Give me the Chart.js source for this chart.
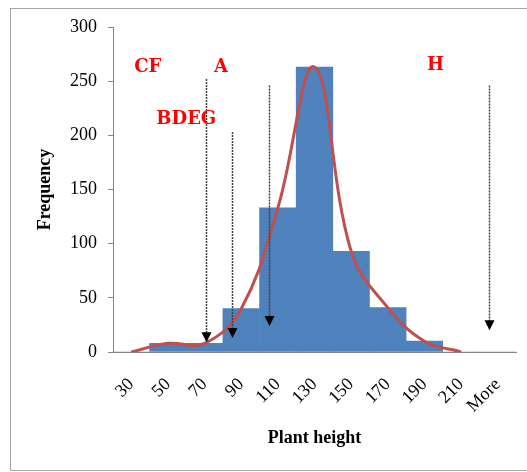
<!DOCTYPE html>
<html>
<head>
<meta charset="utf-8">
<script src="https://cdn.jsdelivr.net/npm/chart.js@4.4.0/dist/chart.umd.min.js"></script>
<style>
  html, body { margin: 0; padding: 0; background: #fff; }
  #wrap { width: 527px; height: 472px; }
</style>
</head>
<body>
<div id="wrap"><canvas id="chart" width="527" height="472"></canvas></div>
<script>
// histogram bins (upper edge of each bin, Excel style)
const binLabels = ['30', '50', '70', '90', '110', '130', '150', '170', '190', '210', 'More'];
const frequency = [0, 8, 8, 40, 133, 263, 93, 41, 10, 0, 0];
// smoothed curve drawn over the bars
const curve = [0, 8, 8, 40, 133, 263, 93, 41, 10, 0, null];

// arrows: plant height they point at, top and tip in frequency units
const arrowHeights = [71, 85, 105, 225];
const arrowTops = [252, 203, 246, 246];
const arrowTips = [9, 13, 24, 20];

// red group labels
const markLabels = ['CF', 'A', 'BDEG', 'H'];
const markHeights = [39, 79, 60, 196];
const markFreqs = [263, 263, 215, 265];

const yTicks = [0, 50, 100, 150, 200, 250, 300];

// plant height -> position on the category axis
const heightToIndex = h => (h - 30) / 20;

const serif = '"Liberation Serif", "Times New Roman", serif';

const annotations = {
    id: 'annotations',
    beforeDraw(chart) {
        const ctx = chart.ctx;
        ctx.save();
        ctx.strokeStyle = '#a6a6a6';
        ctx.lineWidth = 1;
        ctx.strokeRect(10.5, 8.5, 540, 462);
        ctx.restore();
    },
    afterDatasetsDraw(chart) {
        const ctx = chart.ctx;
        const x = chart.scales.x;
        const y = chart.scales.y;
        ctx.save();

        // dotted arrows
        arrowHeights.forEach((h, i) => {
            const px = Math.round(x.getPixelForValue(heightToIndex(h))) + 0.5;
            const top = y.getPixelForValue(arrowTops[i]);
            const tip = y.getPixelForValue(arrowTips[i]);
            ctx.setLineDash([2, 1]);
            ctx.strokeStyle = '#404040';
            ctx.lineWidth = 1.5;
            ctx.beginPath();
            ctx.moveTo(px, top);
            ctx.lineTo(px, tip - 9);
            ctx.stroke();
            ctx.setLineDash([]);
            ctx.fillStyle = '#000';
            ctx.beginPath();
            ctx.moveTo(px - 5, tip - 10);
            ctx.lineTo(px + 5, tip - 10);
            ctx.lineTo(px, tip);
            ctx.closePath();
            ctx.fill();
        });

        // group letters
        ctx.font = 'bold 18px "DejaVu Serif", serif';
        ctx.fillStyle = '#ff0000';
        ctx.textAlign = 'center';
        ctx.textBaseline = 'middle';
        markLabels.forEach((t, i) => {
            ctx.fillText(t, x.getPixelForValue(heightToIndex(markHeights[i])), y.getPixelForValue(markFreqs[i]));
        });
        ctx.restore();
    }
};

const ctx = document.getElementById('chart');
new Chart(ctx, {
    data: {
        labels: binLabels,
        datasets: [
            {
                type: 'line',
                label: 'Curve',
                data: curve,
                borderColor: '#c0504d',
                borderWidth: 3,
                pointRadius: 0,
                tension: 0.4,
                fill: false,
                order: 0
            },
            {
                type: 'bar',
                label: 'Frequency',
                data: frequency,
                backgroundColor: '#4f81bd',
                borderWidth: 0,
                barPercentage: 1,
                categoryPercentage: 1,
                order: 1
            }
        ]
    },
    options: {
        responsive: false,
        animation: false,
        layout: { padding: { left: 0, top: 27, right: 11, bottom: 0 } },
        plugins: {
            legend: { display: false },
            tooltip: { enabled: false }
        },
        scales: {
            x: {
                grid: { display: false },
                border: { display: true, color: '#868686', width: 1 },
                ticks: {
                    autoSkip: false,
                    minRotation: 45,
                    maxRotation: 45,
                    padding: 14,
                    color: '#000',
                    font: { family: serif, size: 18 }
                },
                title: {
                    display: true,
                    text: 'Plant height',
                    color: '#000',
                    padding: { top: 0, bottom: 23 },
                    font: { family: serif, size: 18, weight: 'bold' }
                },
                afterFit(scale) {
                    scale.height = 120;
                    scale.paddingLeft = 0;
                    scale.paddingRight = 0;
                }
            },
            y: {
                min: 0,
                max: 300,
                afterBuildTicks(scale) { scale.ticks = yTicks.map(v => ({ value: v })); },
                grid: { drawOnChartArea: false, drawTicks: true, tickLength: 5, color: '#868686' },
                border: { display: true, color: '#868686', width: 1 },
                ticks: {
                    padding: 11,
                    color: '#000',
                    font: { family: serif, size: 18 }
                },
                title: {
                    display: true,
                    text: 'Frequency',
                    color: '#000',
                    padding: { top: 35, bottom: 0 },
                    font: { family: serif, size: 18, weight: 'bold' }
                },
                afterFit(scale) { scale.width = 113; }
            }
        }
    },
    plugins: [annotations]
});
</script>
</body>
</html>
